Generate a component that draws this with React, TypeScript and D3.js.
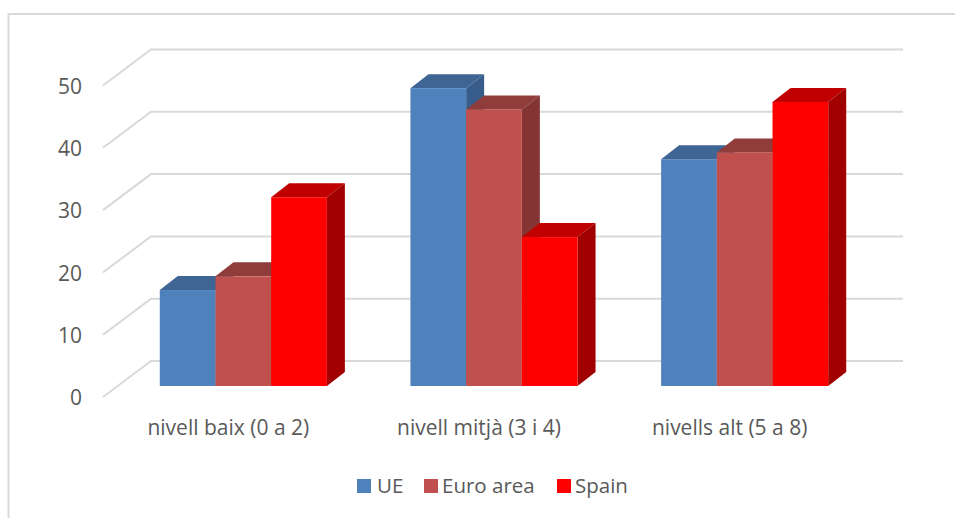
import React from 'react';
import * as d3 from 'd3';

const width = 955;
const height = 518;

const categories = ['nivell baix (0 a 2)', 'nivell mitjà (3 i 4)', 'nivells alt (5 a 8)'];
const seriesNames = ['UE', 'Euro area', 'Spain'];
const ue = [15.4, 47.8, 36.4];
const euroArea = [17.6, 44.4, 37.5];
const spain = [30.3, 23.9, 45.6];
const yTicks = [0, 10, 20, 30, 40, 50];

const seriesValues = [ue, euroArea, spain];
const frontColors = ['#4f81bd', '#c0504d', '#ff0000'];
const topColors = ['#3e6594', '#8f3c3a', '#c00000'];
const sideColors = ['#385d8a', '#843432', '#a00000'];

// front plane of the 3d box, the back wall is shifted by depth
const plot = { left: 103, right: 855, top: 85.5, bottom: 397 };
const depth = { x: 48, y: 36 };
const barShift = { x: 15, y: 11 };
const barDepth = { x: 18, y: 14 };
const font = '"Open Sans", sans-serif';
const textColor = '#595959';
const gridColor = '#d9d9d9';

const y = d3.scaleLinear().domain([0, 50]).range([plot.bottom, plot.top]);
const x0 = d3.scaleBand<number>().domain(d3.range(categories.length)).range([plot.left, plot.right]);
const barWidth = 55.7;

const poly = (pts: [number, number][]) => (d3.line()(pts) as string) + 'Z';

function Bar({ cat, s }: { cat: number; s: number }) {
  const center = (x0(cat) as number) + x0.bandwidth() / 2 + barShift.x;
  const left = center + (s - 1.5) * barWidth;
  const right = left + barWidth;
  const base = y(0) - barShift.y;
  const top = y(seriesValues[s][cat]) - barShift.y;
  const dx = barDepth.x;
  const dy = barDepth.y;
  return (
    <g>
      <path
        d={poly([[left, top], [left + dx, top - dy], [right + dx, top - dy], [right, top]])}
        fill={topColors[s]}
      />
      <path
        d={poly([[right, top], [right + dx, top - dy], [right + dx, base - dy], [right, base]])}
        fill={sideColors[s]}
      />
      <rect x={left} y={top} width={barWidth} height={base - top} fill={frontColors[s]} />
    </g>
  );
}

const legendX = [357, 424, 557];
const legendTextX = [377, 442, 575];

export default function App() {
  return (
    <svg
      width={width}
      height={height}
      style={{ position: 'absolute', left: 0, top: 0, background: '#fff' }}
      fontFamily={font}
    >
      <path d="M8.5,518V14H955" fill="none" stroke={gridColor} strokeWidth={2} />
      {yTicks.map(t => (
        <path
          key={t}
          d={
            d3.line()([
              [plot.left, y(t)],
              [plot.left + depth.x, y(t) - depth.y],
              [plot.right + depth.x, y(t) - depth.y],
            ]) as string
          }
          fill="none"
          stroke={gridColor}
          strokeWidth={2}
        />
      ))}
      {yTicks.map(t => (
        <text key={t} x={82} y={y(t) + 1} dy="0.35em" textAnchor="end" fontSize={21} fill={textColor}>
          {t}
        </text>
      ))}
      {categories.map((_, c) =>
        seriesNames.map((_, s) => <Bar key={`${c}-${s}`} cat={c} s={s} />)
      )}
      {categories.map((c, i) => (
        <text
          key={c}
          x={(x0(i) as number) + x0.bandwidth() / 2}
          y={435}
          textAnchor="middle"
          fontSize={21}
          fill={textColor}
        >
          {c}
        </text>
      ))}
      {seriesNames.map((n, i) => (
        <g key={n}>
          <rect x={legendX[i]} y={479} width={14} height={14} fill={frontColors[i]} />
          <text x={legendTextX[i]} y={493} fontSize={20.5} fill={textColor}>
            {n}
          </text>
        </g>
      ))}
    </svg>
  );
}
